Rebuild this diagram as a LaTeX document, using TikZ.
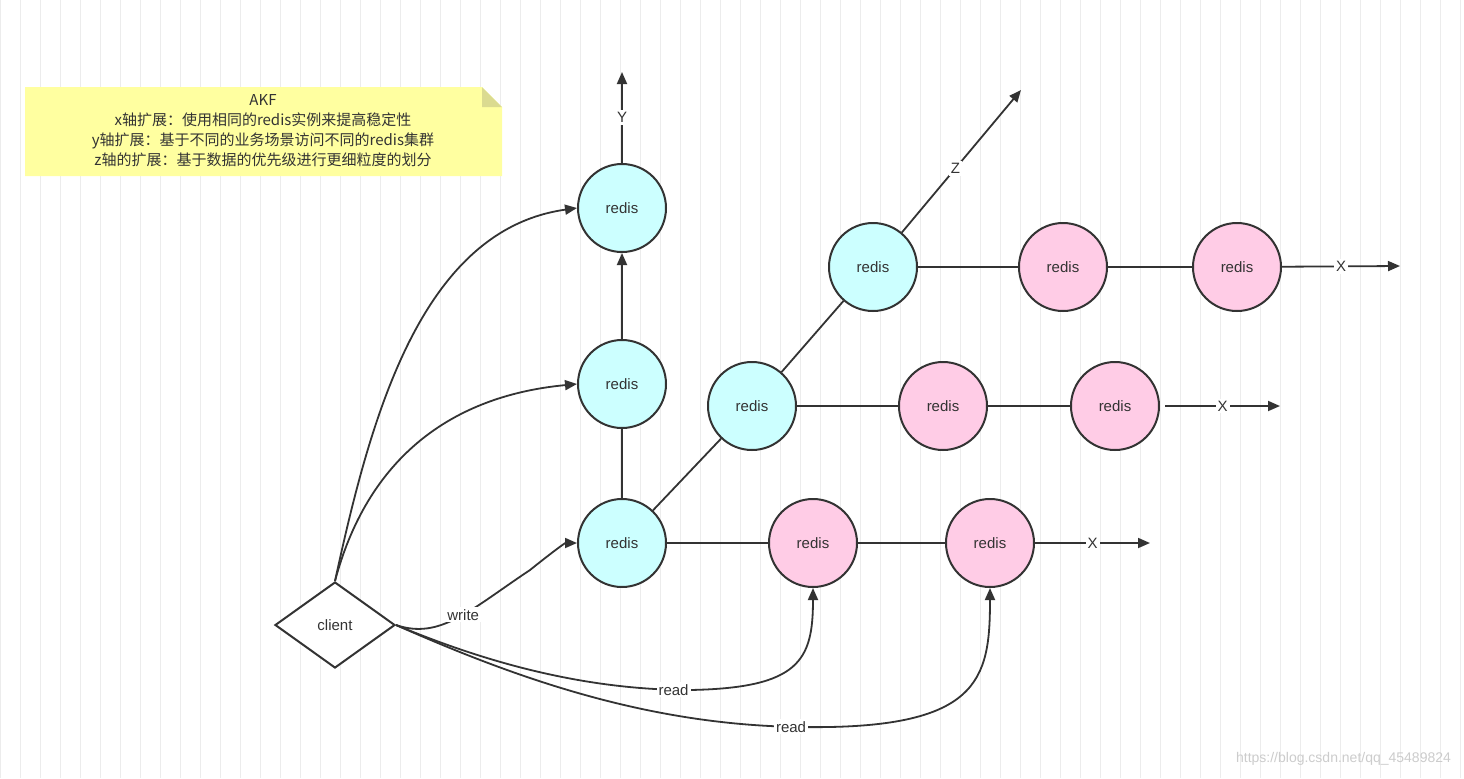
\documentclass[tikz,border=0pt]{standalone}
\usepackage{fontspec}
\setmainfont{Liberation Sans}
\newfontfamily\cjk{Noto Sans CJK SC}
\usetikzlibrary{shapes.geometric,arrows.meta}
\definecolor{cyanf}{HTML}{CCFFFF}
\definecolor{pinkf}{HTML}{FFCCE6}
\definecolor{notef}{HTML}{FFFFA0}
\definecolor{ln}{HTML}{333333}
\begin{document}
\begin{tikzpicture}[x=0.5pt,y=-0.5pt,font=\fontsize{7.5}{9}\selectfont,
  c/.style={circle,draw=ln,line width=1pt,minimum size=44pt,inner sep=0pt,fill=cyanf,text=ln},
  p/.style={c,fill=pinkf},
  e/.style={draw=ln,line width=0.9pt},
  a/.style={e,-{Triangle[length=6pt,width=5pt]}},
  lab/.style={fill=white,inner sep=1pt,text=ln}]
\useasboundingbox (0,0) rectangle (1464,778);
\fill[white] (0,0) rectangle (1464,778);
\draw[gray!15,line width=0.4pt] (0,0) grid[step=20] (1464,778);
% note
\fill[notef] (25,87) -- (482,87) -- (502,107) -- (502,176) -- (25,176) -- cycle;
\fill[notef!60!olive!70] (482,87) -- (502,107) -- (482,107) -- cycle;
\node[align=center,text=ln,font=\cjk\fontsize{7.5}{10}\selectfont] (note) at (263,131) {AKF\\x轴扩展：使用相同的redis实例来提高稳定性\\y轴扩展：基于不同的业务场景访问不同的redis集群\\z轴的扩展：基于数据的优先级进行更细粒度的划分};
% nodes
\node[c] (y1) at (622,208) {redis};
\node[c] (y2) at (622,384) {redis};
\node[c] (b) at (622,543) {redis};
\node[c] (z1) at (752,406) {redis};
\node[c] (z2) at (873,267) {redis};
\node[p] (b1) at (813,543) {redis};
\node[p] (b2) at (990,543) {redis};
\node[p] (m1) at (943,406) {redis};
\node[p] (m2) at (1115,406) {redis};
\node[p] (t1) at (1063,267) {redis};
\node[p] (t2) at (1237,267) {redis};
\node[diamond,draw=ln,line width=1pt,fill=white,minimum width=60pt,minimum height=43pt,inner sep=0pt,text=ln] (cl) at (335,625) {client};
\coordinate (ye) at (622,72);
\coordinate (ze) at (1021,90);
\coordinate (xt) at (1400,266);
\coordinate (xm) at (1280,406);
\coordinate (xms) at (1165,406);
\coordinate (xb) at (1150,543);
% axes
\draw[a] (y2) -- (y1);
\draw[e] (b) -- (y2);
\draw[a] (y1) -- node[lab,pos=0.5]{Y} (ye);
\draw[e] (b) -- (z1);
\draw[e] (z1) -- (z2);
\draw[a] (z2) -- node[lab,pos=0.45]{Z} (ze);
\draw[e] (z2) -- (t1); \draw[e] (t1) -- (t2);
\draw[a] (t2) -- node[lab,pos=0.5]{X} (xt);
\draw[e] (z1) -- (m1); \draw[e] (m1) -- (m2);
\draw[a] (xms) -- node[lab,pos=0.5]{X} (xm);
\draw[e] (b) -- (b1); \draw[e] (b1) -- (b2);
\draw[a] (b2) -- node[lab,pos=0.5]{X} (xb);
% client
\draw[a] (cl.north) .. controls (370,420) and (420,230) .. (y1.west);
\draw[a] (cl.north) .. controls (370,450) and (460,395) .. (y2.west);
\draw[a] (cl.east) .. controls (440,640) and (470,610) .. node[lab,pos=0.55]{write} (530,570) .. controls (555,550) and (565,543) .. (b.west);
\draw[a] (cl.east) .. controls (480,660) and (580,690) .. node[lab,pos=0.95]{read} (690,690) .. controls (800,688) and (813,660) .. (b1.south);
\draw[a] (cl.east) .. controls (520,680) and (650,725) .. node[lab,pos=0.98]{read} (800,727) .. controls (980,730) and (990,680) .. (b2.south);
\node[text=gray!40,anchor=south east,font=\fontsize{7}{8}\selectfont] (wm) at (1458,772) {https://blog.csdn.net/qq\_45489824};
\end{tikzpicture}
\end{document}
